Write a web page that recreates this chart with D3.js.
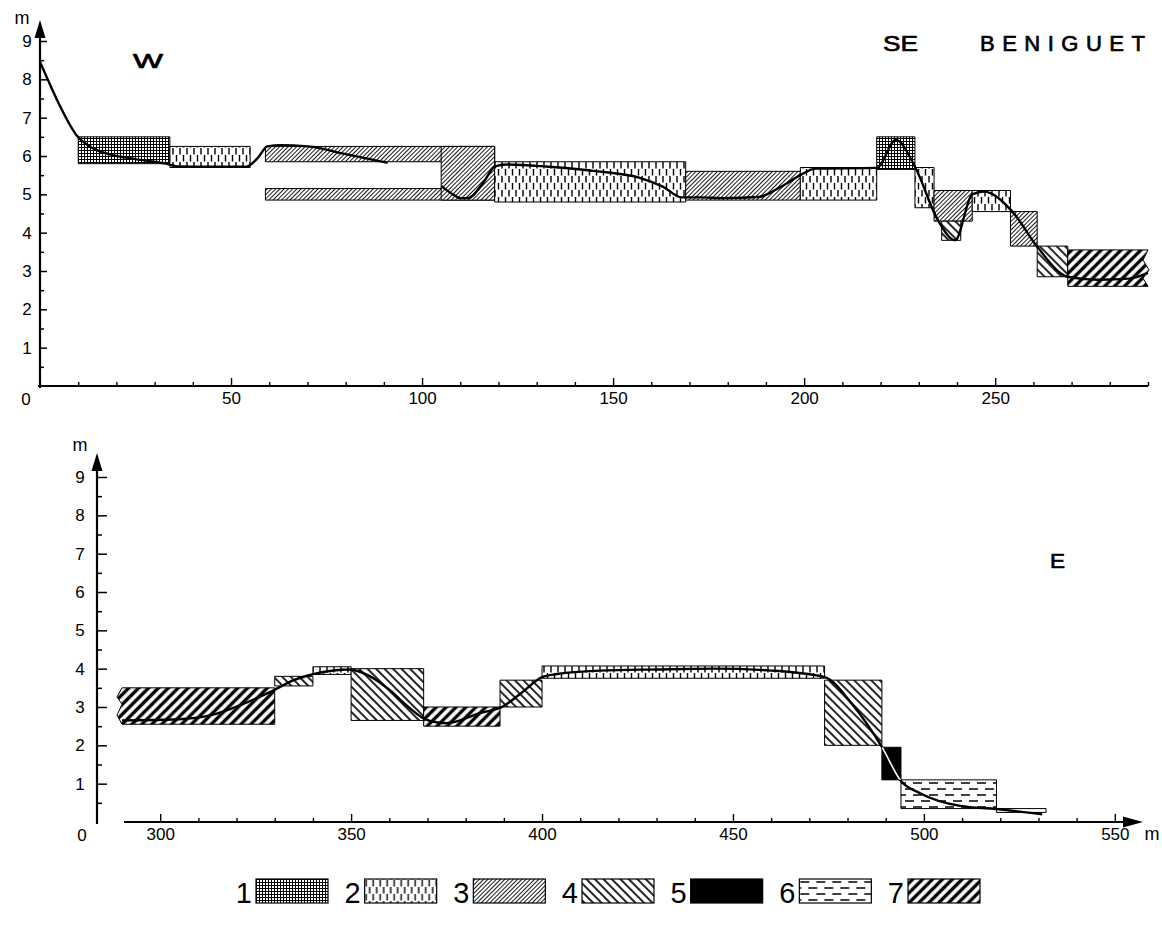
<!DOCTYPE html>
<html>
<head>
<meta charset="utf-8">
<script src="https://cdn.jsdelivr.net/npm/d3@7"></script>
<style>
body { margin: 0; background: #fff; }
svg { display: block; }
text { font-family: "Liberation Sans", Arial, sans-serif; fill: #000; }
</style>
</head>
<body>
<div id="chart"></div>
<script>
// boxes: [type, from (m), to (m), bottom (m), top (m)]
let topBoxes = [
  [1, 10, 34, 5.8, 6.5],
  [2, 34, 55, 5.7, 6.25],
  [3, 59, 119, 5.85, 6.25],
  [3, 59, 119, 4.85, 5.15],
  [3, 105, 119, 4.85, 6.25],
  [2, 119, 169, 4.8, 5.85],
  [3, 169, 199, 4.85, 5.6],
  [2, 199, 219, 4.85, 5.7],
  [1, 219, 229, 5.65, 6.5],
  [2, 229, 234, 4.65, 5.7],
  [3, 234, 244, 4.3, 5.1],
  [4, 236, 241, 3.8, 4.3],
  [2, 244, 254, 4.55, 5.1],
  [3, 254, 261, 3.65, 4.55],
  [4, 261, 269, 2.85, 3.65],
  [7, 269, 290, 2.6, 3.55]
];
let bottomBoxes = [
  [7, 290, 330, 2.55, 3.5],
  [4, 330, 340, 3.55, 3.8],
  [2, 340, 350, 3.85, 4.05],
  [4, 350, 369, 2.65, 4.0],
  [7, 369, 389, 2.5, 3.0],
  [4, 389, 400, 3.0, 3.7],
  [2, 400, 474, 3.75, 4.07],
  [4, 474, 489, 2.0, 3.7],
  [5, 489, 494, 1.1, 1.95],
  [6, 494, 519, 0.35, 1.1],
  [6, 519, 532, 0.25, 0.35]
];

// profile lines [distance, height]
let profileTopA = [[0, 8.45], [2, 8.0], [5, 7.35], [9.5, 6.55], [13, 6.25], [18, 6.05], [25, 5.92],
  [33, 5.8], [36, 5.73], [45, 5.72], [54, 5.72], [57, 5.95], [59.5, 6.25], [63, 6.28], [70, 6.25],
  [80, 6.05], [91, 5.82]];
let profileTopB = [[105, 5.22], [108, 5.0], [110, 4.9], [112, 4.9], [116, 5.3], [119, 5.72], [122, 5.78],
  [133, 5.72], [146, 5.6], [157, 5.43], [163, 5.2], [168, 4.92], [173, 4.92], [179, 4.9], [188, 4.93],
  [194, 5.2], [199, 5.5], [203, 5.67], [219, 5.69], [224, 6.42], [229, 5.72], [235, 4.33], [239.5, 3.8],
  [244, 5.0], [247, 5.07], [254.5, 4.55], [261, 3.63], [269, 2.85], [277, 2.77], [285, 2.8], [290, 2.95]];
let profileBottom = [[290, 2.65], [305, 2.68], [313, 2.78], [321, 3.05], [329, 3.4], [335, 3.7], [342, 3.9],
  [349.5, 3.98], [355, 3.8], [360, 3.45], [365, 3.0], [369.5, 2.68], [375, 2.58], [384, 2.85], [389.5, 3.0],
  [395, 3.4], [400, 3.78], [404, 3.86], [415, 3.95], [430, 3.98], [445, 4.0], [460, 3.95], [474, 3.78],
  [481, 3.1], [489, 1.96], [494, 1.07], [499, 0.75], [509.5, 0.42], [519, 0.34], [531, 0.2]];

let yTickValues = [1, 2, 3, 4, 5, 6, 7, 8, 9];
let topXLabels = [50, 100, 150, 200, 250];
let bottomXLabels = [300, 350, 400, 450, 500, 550];
let legendLabels = ["1", "2", "3", "4", "5", "6", "7"];

const width = 1162, height = 930;

const svg = d3.select("#chart").append("svg")
  .attr("width", width)
  .attr("height", height);

svg.append("rect").attr("width", width).attr("height", height).attr("fill", "#fff");

// patterns
const defs = svg.append("defs");

function hatch(id, size, angle, sw) {
  const p = defs.append("pattern").attr("id", id)
    .attr("patternUnits", "userSpaceOnUse")
    .attr("width", size).attr("height", size)
    .attr("patternTransform", "rotate(" + angle + ")");
  p.append("rect").attr("width", size).attr("height", size).attr("fill", "#fff");
  p.append("line").attr("x1", size / 2).attr("x2", size / 2)
    .attr("y1", -1).attr("y2", size + 1)
    .attr("stroke", "#000").attr("stroke-width", sw);
}

let p1 = defs.append("pattern").attr("id", "p1").attr("patternUnits", "userSpaceOnUse")
  .attr("width", 3).attr("height", 3);
p1.append("rect").attr("width", 3).attr("height", 3).attr("fill", "#fff");
p1.append("path").attr("d", "M0,0.5H3M0.5,0V3").attr("stroke", "#000").attr("stroke-width", 1);

let p2 = defs.append("pattern").attr("id", "p2").attr("patternUnits", "userSpaceOnUse")
  .attr("width", 7).attr("height", 14);
p2.append("rect").attr("width", 7).attr("height", 14).attr("fill", "#fff");
p2.append("path").attr("d", "M1.5,1V7.5M5,8V14.5M5,-0.5V0.5").attr("stroke", "#000").attr("stroke-width", 1.4);

hatch("p3", 3, 45, 0.9);
hatch("p4", 6, -45, 1.7);

let p5 = defs.append("pattern").attr("id", "p5").attr("patternUnits", "userSpaceOnUse")
  .attr("width", 4).attr("height", 4);
p5.append("rect").attr("width", 4).attr("height", 4).attr("fill", "#000");

let p6 = defs.append("pattern").attr("id", "p6").attr("patternUnits", "userSpaceOnUse")
  .attr("width", 16).attr("height", 12);
p6.append("rect").attr("width", 16).attr("height", 12).attr("fill", "#fff");
p6.append("path").attr("d", "M1,3H10M9,9H17M-7,9H2").attr("stroke", "#000").attr("stroke-width", 1.4);

hatch("p7", 7, 45, 3.4);

// scales
let xT = d3.scaleLinear().domain([0, 290]).range([40, 1148]);
let yT = d3.scaleLinear().domain([0, 9]).range([386, 41]);
let xB = d3.scaleLinear().domain([290, 560]).range([122, 1153]);
let yB = d3.scaleLinear().domain([0, 9]).range([822, 477]);

function boxPath(d, x, y, jag) {
  let x0 = x(d[1]), x1 = x(d[2]), y0 = y(d[4]), y1 = y(d[3]);
  let h = y1 - y0;
  if (jag === "right") {
    return "M" + x0 + "," + y0 + "H" + x1 +
      "L" + (x1 - 5) + "," + (y0 + h * 0.28) + "L" + (x1 + 1) + "," + (y0 + h * 0.55) +
      "L" + (x1 - 5) + "," + (y0 + h * 0.78) + "L" + x1 + "," + y1 + "H" + x0 + "Z";
  }
  if (jag === "left") {
    return "M" + x1 + "," + y0 + "H" + x0 +
      "L" + (x0 - 5) + "," + (y0 + h * 0.25) + "L" + x0 + "," + (y0 + h * 0.45) +
      "L" + (x0 - 5) + "," + (y0 + h * 0.75) + "L" + x0 + "," + y1 + "H" + x1 + "Z";
  }
  return "M" + x0 + "," + y0 + "H" + x1 + "V" + y1 + "H" + x0 + "Z";
}

function drawBoxes(g, boxes, x, y, jagIndex, jagSide) {
  g.selectAll("path.box").data(boxes).enter()
    .append("path")
    .attr("class", "box")
    .attr("d", (d, i) => boxPath(d, x, y, i === jagIndex ? jagSide : null))
    .attr("fill", d => "url(#p" + d[0] + ")")
    .attr("stroke", "#000")
    .attr("stroke-width", 1);
}

let line = (x, y) => d3.line().x(d => x(d[0])).y(d => y(d[1])).curve(d3.curveMonotoneX);

function drawYAxis(g, y, xPos, labelX, majorLen, minorLen, arrowTip) {
  let ax = g.append("g").attr("transform", "translate(" + xPos + ",0)")
    .call(d3.axisLeft(y).tickValues(d3.range(0.5, 9.01, 0.5)).tickSize(-minorLen).tickSizeOuter(0)
      .tickPadding(xPos - labelX)
      .tickFormat(d => yTickValues.indexOf(d) >= 0 ? d : ""));
  ax.select(".domain").remove();
  ax.selectAll(".tick line").attr("stroke-width", 1.5)
    .attr("x2", d => Number.isInteger(d) ? majorLen : minorLen);
  ax.selectAll(".tick text").style("font-size", "17px").attr("text-anchor", "middle");
  g.append("line").attr("x1", xPos).attr("x2", xPos)
    .attr("y1", y(0) + 2).attr("y2", arrowTip + 10)
    .attr("stroke", "#000").attr("stroke-width", 2.2);
  g.append("path")
    .attr("d", "M" + xPos + "," + arrowTip + "L" + (xPos - 5.5) + "," + (arrowTip + 18) +
      "L" + (xPos + 5.5) + "," + (arrowTip + 18) + "Z")
    .attr("fill", "#000");
}

function drawXAxis(g, x, yPos, ticks, labels, x0, x1) {
  let ax = g.append("g").attr("transform", "translate(0," + yPos + ")")
    .call(d3.axisBottom(x).tickValues(ticks).tickSize(-4).tickSizeOuter(0).tickPadding(6)
      .tickFormat(d => labels.indexOf(d) >= 0 ? d : ""));
  ax.select(".domain").remove();
  ax.selectAll(".tick line").attr("stroke-width", 1.4)
    .attr("y2", d => d % 50 === 0 ? -8 : -4);
  ax.selectAll(".tick text").style("font-size", "17px");
  g.append("line").attr("x1", x0).attr("x2", x1)
    .attr("y1", yPos).attr("y2", yPos)
    .attr("stroke", "#000").attr("stroke-width", 2.2);
}

function title(g, x, y, size, len, txt, adjust) {
  g.append("text").attr("x", x).attr("y", y)
    .attr("textLength", len).attr("lengthAdjust", adjust)
    .style("font-size", size + "px")
    .style("stroke", "#000").style("stroke-width", 0.7)
    .text(txt);
}

// ---------- top panel ----------
let gTop = svg.append("g");
drawBoxes(gTop, topBoxes, xT, yT, topBoxes.length - 1, "right");

gTop.append("path").datum(profileTopA)
  .attr("d", line(xT, yT)).attr("fill", "none")
  .attr("stroke", "#000").attr("stroke-width", 2.4);
gTop.append("path").datum(profileTopB)
  .attr("d", line(xT, yT)).attr("fill", "none")
  .attr("stroke", "#000").attr("stroke-width", 2.4);

drawYAxis(gTop, yT, 40, 27, 7, 4, 20);
drawXAxis(gTop, xT, yT(0), d3.range(10, 291, 10), topXLabels, 38, 1148);

gTop.append("text").attr("x", 26).attr("y", 405).attr("text-anchor", "middle")
  .style("font-size", "17px").text("0");
gTop.append("text").attr("x", 22).attr("y", 24).attr("text-anchor", "middle")
  .style("font-size", "18px").text("m");
title(gTop, 133, 68, 21, 30, "W", "spacingAndGlyphs");
title(gTop, 883, 51, 22, 35, "SE", "spacingAndGlyphs");
title(gTop, 980, 51, 22, 165, "BENIGUET", "spacing");

// ---------- bottom panel ----------
let gBot = svg.append("g");
drawBoxes(gBot, bottomBoxes, xB, yB, 0, "left");

gBot.append("path").datum(profileBottom)
  .attr("d", line(xB, yB)).attr("fill", "none")
  .attr("stroke", "#000").attr("stroke-width", 2.4);

// white trace of the profile inside the black box
let black = bottomBoxes.filter(d => d[0] === 5)[0];
defs.append("clipPath").attr("id", "blackClip")
  .append("rect")
  .attr("x", xB(black[1])).attr("y", yB(black[4]))
  .attr("width", xB(black[2]) - xB(black[1])).attr("height", yB(black[3]) - yB(black[4]));
gBot.append("path").datum(profileBottom)
  .attr("d", line(xB, yB)).attr("fill", "none")
  .attr("clip-path", "url(#blackClip)")
  .attr("stroke", "#fff").attr("stroke-width", 1.6);

drawYAxis(gBot, yB, 97, 80, 10, 5, 453);
drawXAxis(gBot, xB, yB(0), d3.range(300, 551, 10), bottomXLabels, 124, 1128);
gBot.append("path")
  .attr("d", "M1143," + yB(0) + "L1123," + (yB(0) - 5.5) + "L1123," + (yB(0) + 5.5) + "Z")
  .attr("fill", "#000");

gBot.append("text").attr("x", 82).attr("y", 841).attr("text-anchor", "middle")
  .style("font-size", "17px").text("0");
gBot.append("text").attr("x", 80).attr("y", 451).attr("text-anchor", "middle")
  .style("font-size", "18px").text("m");
gBot.append("text").attr("x", 1152).attr("y", 840).attr("text-anchor", "middle")
  .style("font-size", "18px").text("m");
title(gBot, 1050, 568, 20, 15, "E", "spacingAndGlyphs");

// ---------- legend ----------
let xL = d3.scaleLinear().domain([0, 6]).range([256, 908]);
let legend = svg.append("g").selectAll("g").data(legendLabels).enter()
  .append("g").attr("transform", (d, i) => "translate(" + xL(i) + ",879)");
legend.append("rect")
  .attr("width", 72).attr("height", 24)
  .attr("fill", d => "url(#p" + d + ")")
  .attr("stroke", "#000").attr("stroke-width", 1.2);
legend.append("text")
  .attr("x", -4).attr("y", 24)
  .attr("text-anchor", "end")
  .style("font-size", "29px")
  .text(d => d);
</script>
</body>
</html>
